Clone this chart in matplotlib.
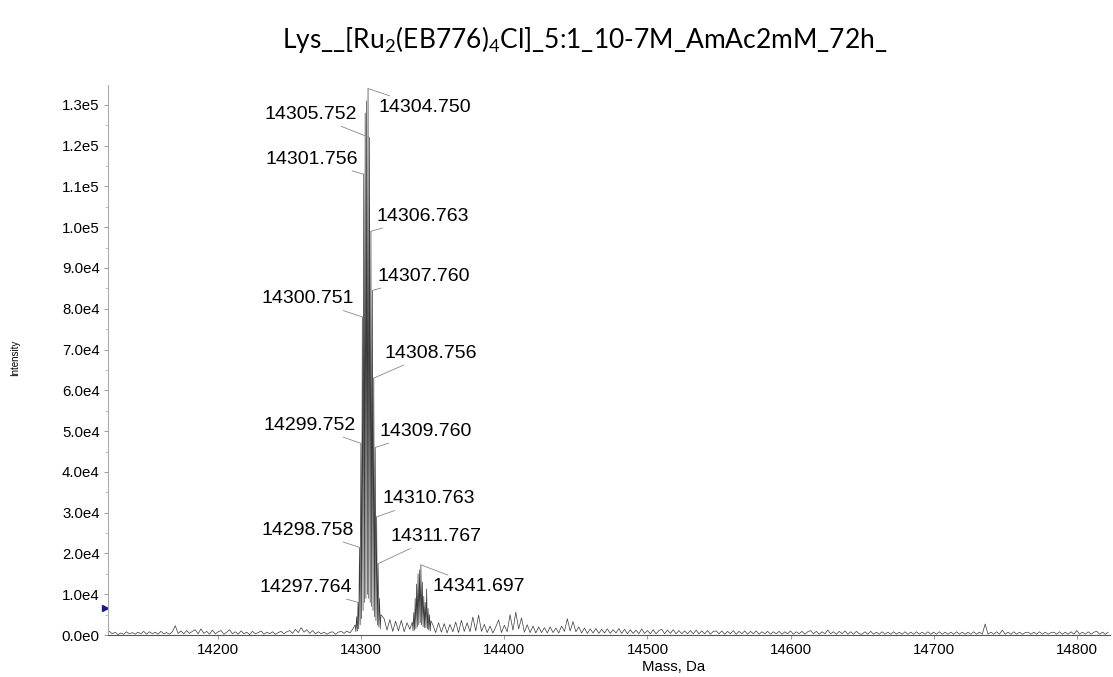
import matplotlib.pyplot as plt
from matplotlib.ticker import FuncFormatter, MultipleLocator
import numpy as np

# Baseline noise, 2 Da grid, left of the main envelope (14120 - 14294)
left_start = 14120
left_noise = [
    600, 200, 900, 300, 700, 100, 500, 200, 800, 300,
    600, 200, 700, 300, 900, 200, 800, 300, 700, 200,
    900, 300, 600, 200, 800, 2300, 400, 1000, 300, 1100,
    400, 900, 1300, 300, 1500, 400, 900, 200, 1200, 300,
    800, 1100, 200, 700, 1300, 300, 800, 200, 1000, 300,
    700, 100, 900, 300, 600, 1000, 200, 700, 300, 800,
    200, 600, 900, 300, 800, 1100, 400, 1400, 600, 1800,
    700, 1300, 400, 1100, 300, 800, 300, 700, 200, 600,
    800, 200, 700, 900, 400, 1000, 500, 1400,
]

# Main isotope envelope (peak tops, valleys between them)
main_mass = [14295.77, 14296.76, 14297.764, 14298.758, 14299.752, 14300.751,
             14301.756, 14302.752, 14303.751, 14304.750, 14305.752, 14306.763,
             14307.760, 14308.756, 14309.760, 14310.763, 14311.767, 14312.77,
             14313.77]
main_top = [2500, 4500, 8000, 21500, 47000, 78000,
            113000, 128000, 131000, 134000, 122000, 99000,
            84500, 63000, 46000, 29000, 17500, 9000,
            5000]
main_valley = [800, 1000, 1500, 2500, 4000, 6000, 8000, 9000, 10000,
               9000, 8000, 7000, 6000, 4500, 3500, 2500, 2000, 1500]

# Noise between the two envelopes (14316 - 14334)
mid_start = 14316
mid_noise = [4000, 1200, 3800, 900, 3400, 1000, 3600, 800, 3000, 1400]

# Adduct envelope around 14341
adduct_mass = [14335.70, 14336.70, 14337.70, 14338.70, 14339.70, 14340.70,
               14341.697, 14342.70, 14343.70, 14344.70, 14345.70, 14346.70,
               14347.70, 14348.70]
adduct_top = [3200, 5500, 9000, 12500, 15000, 16000,
              17200, 13000, 9500, 8000, 11300, 6500,
              5000, 3500]
adduct_valley = [1000, 1200, 1500, 2000, 2500, 3000, 2500, 2000, 1800,
                 1800, 1500, 1200, 1000]

# Baseline noise right of the adduct (14350 - 14822)
right_start = 14350
right_noise = [
    2500, 600, 3000, 700, 2800, 500, 2600, 800, 3200, 600,
    3600, 900, 3000, 800, 4400, 1000, 4900, 900, 2600, 600,
    2200, 500, 2000, 3700, 600, 2400, 800, 5000, 1200, 5600,
    1500, 4200, 700, 2500, 600, 2200, 500, 2000, 600, 1800,
    500, 2000, 600, 1700, 500, 2200, 900, 4000, 1000, 3300,
    800, 2000, 500, 1700, 400, 1500, 500, 1600, 400, 1400,
    500, 1500, 400, 1300, 500, 1600, 400, 1400, 300, 1300,
    400, 1200, 300, 1500, 400, 1100, 300, 1300, 300, 1100,
    1400, 300, 1200, 400, 1300, 300, 1100, 300, 1000, 300,
    1100, 300, 1200, 300, 1000, 300, 1100, 200, 900, 1000,
    300, 1000, 200, 900, 300, 1100, 200, 900, 300, 1000,
    200, 900, 300, 1000, 200, 800, 300, 900, 200, 800,
    300, 900, 200, 800, 300, 1000, 200, 800, 300, 900,
    200, 800, 1100, 300, 900, 200, 800, 300, 1200, 300,
    800, 200, 900, 300, 1000, 200, 800, 200, 900, 300,
    200, 800, 200, 900, 200, 700, 200, 800, 200, 700,
    200, 800, 200, 700, 200, 800, 200, 700, 200, 800,
    200, 700, 200, 800, 200, 700, 200, 800, 200, 700,
    200, 700, 200, 800, 200, 700, 200, 700, 200, 800,
    200, 700, 200, 2700, 200, 700, 200, 800, 200, 1200,
    200, 700, 200, 800, 200, 700, 200, 600, 700, 200,
    700, 200, 800, 200, 700, 200, 600, 700, 200, 800,
    200, 700, 200, 800, 200, 1100, 200, 700, 200, 800,
    200, 700, 900, 200, 700, 200, 700,
]

# Annotated peaks: mass label, text offset in pixels
peak_labels = ["14304.750", "14305.752", "14301.756", "14306.763", "14307.760",
               "14300.751", "14308.756", "14299.752", "14309.760", "14310.763",
               "14298.758", "14311.767", "14297.764", "14341.697"]
label_offsets = [(10, -19), (-12, 23), (-6, 15), (6, 15), (5, 14),
                 (-8, 18), (11, 25), (-5, 18), (4, 16), (6, 18),
                 (-6, 17), (12, 27), (-6, 15), (12, -22)]


def envelope(mass, top, valley):
    # interleave peak tops with valleys at the midpoints
    xs, ys = [], []
    for i in range(len(mass)):
        xs.append(mass[i]); ys.append(top[i])
        if i < len(valley):
            xs.append((mass[i] + mass[i + 1]) / 2); ys.append(valley[i])
    return xs, ys


def grid(start, values):
    return list(start + 2 * np.arange(len(values))), list(values)


parts = [grid(left_start, left_noise),
         envelope(main_mass, main_top, main_valley),
         grid(mid_start, mid_noise),
         envelope(adduct_mass, adduct_top, adduct_valley),
         grid(right_start, right_noise)]
mass = np.concatenate([p[0] for p in parts])
inten = np.concatenate([p[1] for p in parts])

peak_height = dict(zip(main_mass + adduct_mass, main_top + adduct_top))

plt.rcParams['font.family'] = ['Liberation Sans', 'DejaVu Sans']
plt.rcParams['mathtext.fontset'] = 'custom'
plt.rcParams['mathtext.rm'] = 'Lato'

fig = plt.figure(figsize=(11.13, 6.77), dpi=100)
ax = fig.add_axes([0.097, 0.062, 0.9, 0.812])

# Spectrum
ax.plot(mass, inten, color='#3a3a3a', linewidth=0.5)

# Peak labels with leader lines
for lab, off in zip(peak_labels, label_offsets):
    m = float(lab)
    ax.annotate(lab, xy=(m, peak_height[m]), xytext=off, textcoords='offset pixels',
                ha='left' if off[0] > 0 else 'right', va='center', fontsize=14,
                arrowprops=dict(arrowstyle='-', color='#888888', lw=0.6,
                                shrinkA=1, shrinkB=0))

# Axes setup
ax.set_xlim(14123, 14823)
ax.set_ylim(0, 134800)
ax.xaxis.set_major_locator(MultipleLocator(100))
ax.yaxis.set_major_locator(MultipleLocator(10000))
ax.yaxis.set_minor_locator(MultipleLocator(5000))


def sci(v, pos):
    if v == 0:
        return "0.0e0"
    e = int(np.floor(np.log10(abs(v))))
    return f"{v / 10 ** e:.1f}e{e}"


ax.yaxis.set_major_formatter(FuncFormatter(sci))
ax.tick_params(axis='both', which='major', labelsize=10.8, length=3, width=0.6,
               color='#888888', pad=3)
ax.tick_params(axis='y', which='minor', length=2, width=0.5, color='#aaaaaa')
for s in ['top', 'right']:
    ax.spines[s].set_visible(False)
ax.spines['left'].set_color('#aaaaaa')
ax.spines['left'].set_linewidth(0.8)
ax.spines['bottom'].set_color('#555555')
ax.spines['bottom'].set_linewidth(0.8)

ax.set_xlabel("Mass, Da", fontsize=10.8)
ax.xaxis.set_label_coords(0.565, -0.045)
fig.text(0.0135, 0.471, "Intensity", rotation=90, fontsize=7, ha='center', va='center')

# Marker on the intensity axis
ax.plot([14121], [6600], marker='>', markersize=5, color='#1a1a8c', clip_on=False)

fig.text(0.525, 0.941, r"Lys__[Ru$_2$(EB776)$_4$Cl]_5:1_10-7M_AmAc2mM_72h_",
         fontsize=19, family='Lato', ha='center', va='center')

plt.savefig("out.png", dpi=100)
